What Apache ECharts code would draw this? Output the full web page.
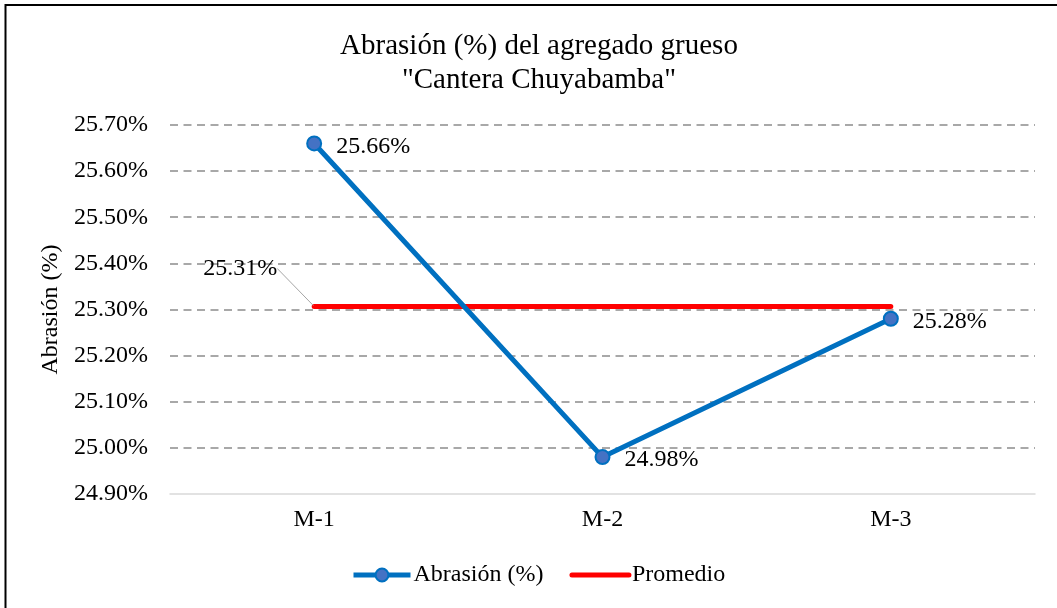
<!DOCTYPE html>
<html>
<head>
<meta charset="utf-8">
<script src="https://cdn.jsdelivr.net/npm/echarts@6/dist/echarts.min.js"></script>
<style>
html,body{margin:0;padding:0;background:#fff;}
#chart{width:1057px;height:608px;}
</style>
</head>
<body>
<div id="chart"></div>
<script>
var categories = ['M-1', 'M-2', 'M-3'];
var abrasion = [25.66, 24.98, 25.28];
var promedio = [25.3067, 25.3067, 25.3067];
var yMin = 24.9, yMax = 25.7, yStep = 0.1;
var titleText = 'Abrasión (%) del agregado grueso\n"Cantera Chuyabamba"';

var FONT = '"Liberation Serif", "Times New Roman", serif';
var chart = echarts.init(document.getElementById('chart'), null, {renderer: 'canvas'});

function pct(v) { return v.toFixed(2) + '%'; }

var option = {
  backgroundColor: '#ffffff',
  animation: false,
  graphic: [{
    type: 'rect',
    shape: {x: 5.5, y: 5, width: 1100, height: 700},
    style: {fill: 'none', stroke: '#000', lineWidth: 2},
    silent: true
  }],
  title: {
    text: titleText,
    left: 534,
    textAlign: 'center',
    top: 24,
    textStyle: {fontFamily: FONT, fontSize: 29, fontWeight: 'normal', color: '#000', lineHeight: 34}
  },
  grid: {left: 170, right: 22, top: 125, bottom: 114},
  legend: {
    bottom: 21,
    left: 351,
    padding: 0,
    itemWidth: 57,
    itemHeight: 16,
    itemGap: 26,
    lineStyle: {width: 5},
    textStyle: {fontFamily: FONT, fontSize: 24, color: '#000', padding: [0, 0, 0, -2]},
    data: [
      {name: 'Abrasión (%)'},
      {name: 'Promedio', itemStyle: {opacity: 0}}
    ]
  },
  xAxis: {
    type: 'category',
    data: categories,
    boundaryGap: true,
    axisLine: {lineStyle: {color: '#d9d9d9', width: 1.5}},
    axisTick: {show: false},
    axisLabel: {fontFamily: FONT, fontSize: 24, color: '#000', margin: 14}
  },
  yAxis: {
    type: 'value',
    min: yMin, max: yMax, interval: yStep,
    name: 'Abrasión (%)',
    nameLocation: 'middle',
    nameGap: 100,
    nameTextStyle: {fontFamily: FONT, fontSize: 24, color: '#000'},
    axisLine: {show: false},
    axisTick: {show: false},
    axisLabel: {fontFamily: FONT, fontSize: 24, color: '#000', margin: 22, formatter: function (v) { return pct(v); }},
    splitLine: {
      lineStyle: {color: '#8c8c8c', width: 1.5, type: [8, 5.5]},
      showMinLine: false
    }
  },
  series: [{
    name: 'Abrasión (%)',
    type: 'line',
    data: abrasion,
    symbol: 'circle',
    symbolSize: 14,
    lineStyle: {color: '#0070C0', width: 5},
    itemStyle: {color: '#4472C4', borderColor: '#0070C0', borderWidth: 2},
    label: {
      show: true, position: 'right', distance: 14, offset: [0, 3],
      fontFamily: FONT, fontSize: 24, color: '#000',
      formatter: function (p) { return pct(p.value); }
    },
    z: 3
  }, {
    name: 'Promedio',
    type: 'line',
    data: promedio.map(function (v, i) {
      return i === 0 ? {value: v, symbol: 'circle', symbolSize: 2, label: {show: true}} : {value: v, symbol: 'none'};
    }),
    symbol: 'none',
    showSymbol: true,
    lineStyle: {color: '#ff0000', width: 5, cap: 'round'},
    itemStyle: {color: '#ff0000'},
    label: {
      show: false, position: 'left', distance: 5,
      fontFamily: FONT, fontSize: 24, color: '#000',
      formatter: function (p) { return pct(p.value); }
    },
    labelLayout: function (params) {
      if (params.dataIndex === 0) return {dx: -31, dy: -38};
      return {};
    },
    labelLine: {show: true, length2: 0, lineStyle: {color: '#a6a6a6', width: 1}},
    z: 2
  }]
};
chart.setOption(option);
</script>
</body>
</html>
